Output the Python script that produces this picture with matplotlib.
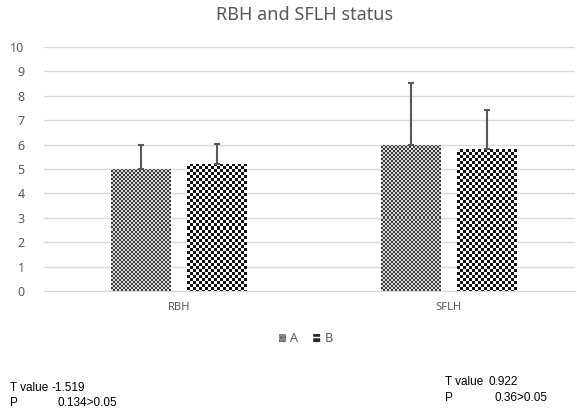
import numpy as np
import matplotlib
matplotlib.use('Agg')
import matplotlib.pyplot as plt
from matplotlib.patches import Patch

plt.rcParams['font.family'] = ['Noto Sans', 'DejaVu Sans']

categories = ['RBH', 'SFLH']
series = ['A', 'B']
means_a = [5.0, 6.0]
means_b = [5.22, 5.8]
err_a = [0.98, 2.54]
err_b = [0.8, 1.6]
stat_labels = ['T value', 'P']
stats_left = ['-1.519', '0.134>0.05']
stats_right = ['0.922', '0.36>0.05']

GRAY = '#595959'


def checker(h, w, cell, c1, c2):
    yy, xx = np.mgrid[0:h, 0:w]
    mask = ((yy // cell + xx // cell) % 2).astype(bool)
    img = np.zeros((h, w, 3))
    img[mask] = matplotlib.colors.to_rgb(c1)
    img[~mask] = matplotlib.colors.to_rgb(c2)
    return img


def fill_checker(ax, bars, cell, c1, c2):
    fig = ax.figure
    fig.canvas.draw()
    for b in bars:
        x0, y0 = b.get_x(), b.get_y()
        x1, y1 = x0 + b.get_width(), y0 + b.get_height()
        p0 = ax.transData.transform((x0, y0))
        p1 = ax.transData.transform((x1, y1))
        w = max(int(round(p1[0] - p0[0])), 1)
        h = max(int(round(p1[1] - p0[1])), 1)
        im = ax.imshow(checker(h, w, cell, c1, c2), extent=(x0, x1, y0, y1),
                       interpolation='nearest', aspect='auto', zorder=2)
        im.set_clip_path(b)
        b.set_facecolor('none')


fig = plt.figure(figsize=(5.77, 4.12), dpi=100)
ax = fig.add_axes([0.0763, 0.2937, 0.92, 0.5923])

x = np.arange(len(categories))
bw = 0.222
off = 0.141
bars_a = ax.bar(x - off, means_a, bw, color='#888888', linewidth=0, zorder=2)
bars_b = ax.bar(x + off, means_b, bw, color='#888888', linewidth=0, zorder=2)
ax.errorbar(x - off, means_a, yerr=[np.zeros(2), err_a], fmt='none',
            ecolor=GRAY, elinewidth=1.5, capsize=2.5, capthick=1.5, zorder=3)
ax.errorbar(x + off, means_b, yerr=[np.zeros(2), err_b], fmt='none',
            ecolor=GRAY, elinewidth=1.5, capsize=2.5, capthick=1.5, zorder=3)

ax.set_xlim(-0.5, 1.467)
ax.set_ylim(0, 10)
ax.set_yticks(range(0, 11))
ax.set_xticks(x)
ax.set_xticklabels(categories)
ax.tick_params(length=0, labelsize=9, colors=GRAY, pad=8)
ax.tick_params(axis='x', labelsize=8)
ax.tick_params(axis='y', pad=14)
ax.grid(axis='y', color='#d9d9d9', linewidth=1)
ax.set_axisbelow(True)
for s in ['top', 'right', 'left']:
    ax.spines[s].set_visible(False)
ax.spines['bottom'].set_color('#d9d9d9')

fill_checker(ax, bars_a, 2, '#3a3a3a', '#d8d8d8')
fill_checker(ax, bars_b, 3, '#111111', '#ffffff')

fig.suptitle('RBH and SFLH status', x=0.527, y=0.985, fontsize=13, color=GRAY)

handles = [Patch(facecolor='#8a8a8a', edgecolor='#555555', hatch='....', linewidth=0),
           Patch(facecolor='#2a2a2a', edgecolor='white', hatch='++', linewidth=0)]
fig.legend(handles, series, loc='center', bbox_to_anchor=(0.53, 0.178), ncol=2,
           frameon=False, fontsize=9, handlelength=0.6, handleheight=0.6,
           handletextpad=0.3, columnspacing=1.2, labelcolor=GRAY)

sfont = dict(fontsize=8.5, color='black', va='center', family=['Liberation Sans', 'DejaVu Sans'])
for i, lab in enumerate(stat_labels):
    yl = 0.058 - i * 0.037
    yr = 0.072 - i * 0.037
    fig.text(0.017, yl, lab, **sfont)
    fig.text(0.089 if i == 0 else 0.099, yl, stats_left[i], **sfont)
    fig.text(0.771, yr, lab, **sfont)
    fig.text(0.846 if i == 0 else 0.857, yr, stats_right[i], **sfont)

fig.savefig('out.png', dpi=100)
